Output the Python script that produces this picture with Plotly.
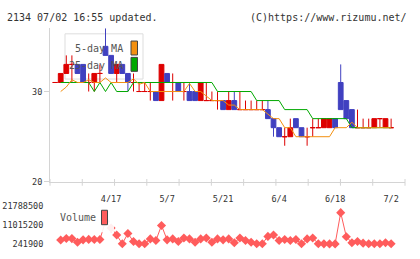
import plotly.graph_objects as go

# ---------------- data ----------------
tick_idx = [10, 20, 30, 40, 50, 60]
tick_labels = ["4/17", "5/7", "5/21", "6/4", "6/18", "7/2"]

opens  = [31,31,32,33,33,33,31,31,32,35,34,32,33,32,31,30,30,30,30,29,32,31,31,30,30,30,29,29,29,29,
          29,28,29,28,28,28,28,28,28,27,26,25,25,27,26,25,26,26,26,26,27,31,29,28,26,26,26,26,27,26,26]
highs  = [31,32,34,34,33,33,32,32,33,37,34,33,33,32,32,31,31,31,30,33,32,32,31,31,31,30,31,31,30,30,
          29,30,30,30,29,29,29,29,29,27,26,26,27,27,26,26,27,27,27,27,27,33,29,28,28,27,27,27,27,27,27]
lows   = [31,31,32,31,32,31,30,30,31,34,32,31,32,30,30,30,30,29,29,29,31,29,30,29,29,29,29,29,29,28,
          28,28,28,28,28,28,28,28,27,25,25,24,25,26,25,24,25,26,26,26,26,28,27,26,26,26,26,26,26,26,26]
closes = [31,32,33,33,32,31,31,32,32,34,32,33,32,31,31,30,30,30,29,33,31,31,30,30,29,29,31,29,29,29,
          28,29,28,28,28,28,28,28,27,26,25,25,26,26,25,25,26,26,27,27,26,28,27,26,26,26,26,27,27,27,26]

ma5 = [None,30,30.5,31.3,31,31,31.3,31,31,31.5,31,31,31,31,31.4,30.8,31,30,30,30,30,30,30,30,30.9,30,30,29.5,29,29,
       29,28.5,28.5,28,28,28,28,28,27.5,27,27,26,26,25,25,25,25,25,25,25,26,26,26,26.6,26,26,26,26,26,26,26]
ma25 = [None,31,31,31,31,31,31,30,31,30,31,30,30,30,31,31,31,31,31,31,31,31,31,31,31,31,31,31,31,30,
        30,30,30,30,30,30,29,29,29,29,29,28,28,28,28,28,27,27,27,27,27,27,27,26,26,26,26,26,26,26,26]

volume = [None,2420000,3350000,3240000,1170000,2530000,2800000,2700000,2700000,13060000,9240000,
          5260000,350000,6130000,1610000,350000,350000,3080000,2150000,10710000,2530000,
          3080000,1610000,3620000,3080000,1220000,3080000,3620000,1220000,3080000,2530000,
          3080000,900000,3620000,2150000,1220000,350000,350000,4490000,5260000,2150000,
          2700000,2150000,2700000,350000,3080000,3620000,350000,260000,241900,250000,
          17970000,4330000,900000,1610000,680000,350000,350000,350000,900000,350000]

vol_ticks = [241900, 11015200, 21788500]

# ---------------- styling ----------------
RED = "#dd0000"
BLUE = "#4040c0"
ORANGE = "#f39010"
GREEN = "#00a800"
VOLC = "#ff5c5c"
AX = "#d4d4d4"
FONT = "DejaVu Sans Mono"

n = len(opens)
idx = list(range(n))
red_i = [i for i in idx if closes[i] >= opens[i]]
blue_i = [i for i in idx if closes[i] < opens[i]]

fig = go.Figure()

def candle(sel, color):
    return go.Candlestick(
        x=sel,
        open=[opens[i] for i in sel], high=[highs[i] for i in sel],
        low=[lows[i] for i in sel], close=[closes[i] for i in sel],
        increasing=dict(line=dict(color=color, width=1), fillcolor=color),
        decreasing=dict(line=dict(color=color, width=1), fillcolor=color),
        whiskerwidth=0, xaxis="x", yaxis="y", hoverinfo="skip",
    )

fig.add_trace(go.Scatter(x=idx, y=ma25, mode="lines", line=dict(color=GREEN, width=1),
                         xaxis="x", yaxis="y", hoverinfo="skip"))
fig.add_trace(go.Scatter(x=idx, y=ma5, mode="lines", line=dict(color=ORANGE, width=1),
                         xaxis="x", yaxis="y", hoverinfo="skip"))
fig.add_trace(candle(red_i, RED))
fig.add_trace(candle(blue_i, BLUE))

fig.add_trace(go.Scatter(x=idx, y=volume, mode="lines+markers",
                         line=dict(color=VOLC, width=1),
                         marker=dict(symbol="diamond", size=7, color=VOLC),
                         cliponaxis=False, xaxis="x2", yaxis="y2", hoverinfo="skip"))

xr = [-0.91, 62.48]
W, H = 420, 259
xd = [50 / W, 405 / W]

shapes = []
# main legend box (below data)
shapes.append(dict(type="rect", xref="paper", yref="paper", layer="below",
                   x0=65 / W, x1=143 / W, y0=1 - 77 / H, y1=1 - 30 / H,
                   fillcolor="white", line=dict(color="#dddddd", width=1)))
# legend swatches
shapes.append(dict(type="rect", xref="paper", yref="paper",
                   x0=131 / W, x1=137.5 / W, y0=1 - 52 / H, y1=1 - 37.5 / H,
                   fillcolor=ORANGE, line=dict(color="#444444", width=1)))
shapes.append(dict(type="rect", xref="paper", yref="paper",
                   x0=131 / W, x1=137.5 / W, y0=1 - 69 / H, y1=1 - 54.5 / H,
                   fillcolor=GREEN, line=dict(color="#444444", width=1)))
# volume legend background
shapes.append(dict(type="rect", xref="paper", yref="paper",
                   x0=55 / W, x1=114 / W, y0=1 - 236.5 / H, y1=1 - 205 / H,
                   fillcolor="rgba(255,255,255,0.9)", line=dict(width=0)))
shapes.append(dict(type="rect", xref="paper", yref="paper",
                   x0=101.5 / W, x1=107.5 / W, y0=1 - 228.5 / H, y1=1 - 213.5 / H,
                   fillcolor=VOLC, line=dict(color="#444444", width=1)))
# x-axis tick marks (11 equal divisions crossing the axis)
for k in range(12):
    shapes.append(dict(type="line", xref="x domain", yref="y domain",
                       x0=k / 11, x1=k / 11, y0=-4 / 160, y1=3 / 160,
                       line=dict(color=AX, width=1)))

annotations = [
    dict(text="2134 07/02 16:55 updated.", xref="paper", yref="paper", x=5 / W, y=1 - 13 / H,
         xanchor="left", yanchor="middle", showarrow=False, font=dict(family=FONT, size=10, color="#333")),
    dict(text="(C)https://www.rizumu.net/", xref="paper", yref="paper", x=409 / W, y=1 - 13 / H,
         xanchor="right", yanchor="middle", showarrow=False, font=dict(family=FONT, size=10, color="#333")),
    dict(text="5-day MA", xref="paper", yref="paper", x=125 / W, y=1 - 45.5 / H,
         xanchor="right", yanchor="middle", showarrow=False, font=dict(family=FONT, size=10, color="#555")),
    dict(text="25-day MA", xref="paper", yref="paper", x=125 / W, y=1 - 62.5 / H,
         xanchor="right", yanchor="middle", showarrow=False, font=dict(family=FONT, size=10, color="#555")),
    dict(text="Volume", xref="paper", yref="paper", x=58 / W, y=1 - 221.5 / H,
         xanchor="left", yanchor="middle", showarrow=False, font=dict(family=FONT, size=10, color="#555")),
]

fig.update_layout(
    width=W, height=H, margin=dict(l=0, r=0, t=0, b=0),
    paper_bgcolor="white", plot_bgcolor="white", showlegend=False,
    font=dict(family=FONT, size=8.5, color="#333"),
    boxgap=0.15, boxgroupgap=0,
    xaxis=dict(domain=xd, range=xr, showgrid=False, zeroline=False, showline=True,
               linecolor=AX, linewidth=1, tickmode="array", tickvals=tick_idx, ticktext=tick_labels,
               ticks="", ticklabelstandoff=9, rangeslider=dict(visible=False), anchor="y",
               tickfont=dict(family=FONT, size=8.5, color="#333")),
    yaxis=dict(domain=[1 - 184 / H, 1 - 24.2 / H], range=[20, 37], showgrid=False, zeroline=False,
               showline=True, linecolor=AX, linewidth=1, tickmode="array", tickvals=[20, 30],
               ticks="outside", ticklen=5, tickcolor=AX, anchor="x",
               tickfont=dict(family=FONT, size=8.5, color="#333")),
    xaxis2=dict(domain=xd, range=xr, visible=False, anchor="y2"),
    yaxis2=dict(domain=[1 - 248.5 / H, 1 - 209 / H], range=[vol_ticks[0], vol_ticks[-1]],
                showgrid=False, zeroline=False, showline=False, tickmode="array",
                tickvals=vol_ticks, ticktext=[str(v) for v in vol_ticks],
                ticks="outside", ticklen=4, tickcolor="rgba(0,0,0,0)", anchor="x2",
                tickfont=dict(family=FONT, size=8.5, color="#333")),
    shapes=shapes, annotations=annotations,
)

fig.write_html("out.html")
